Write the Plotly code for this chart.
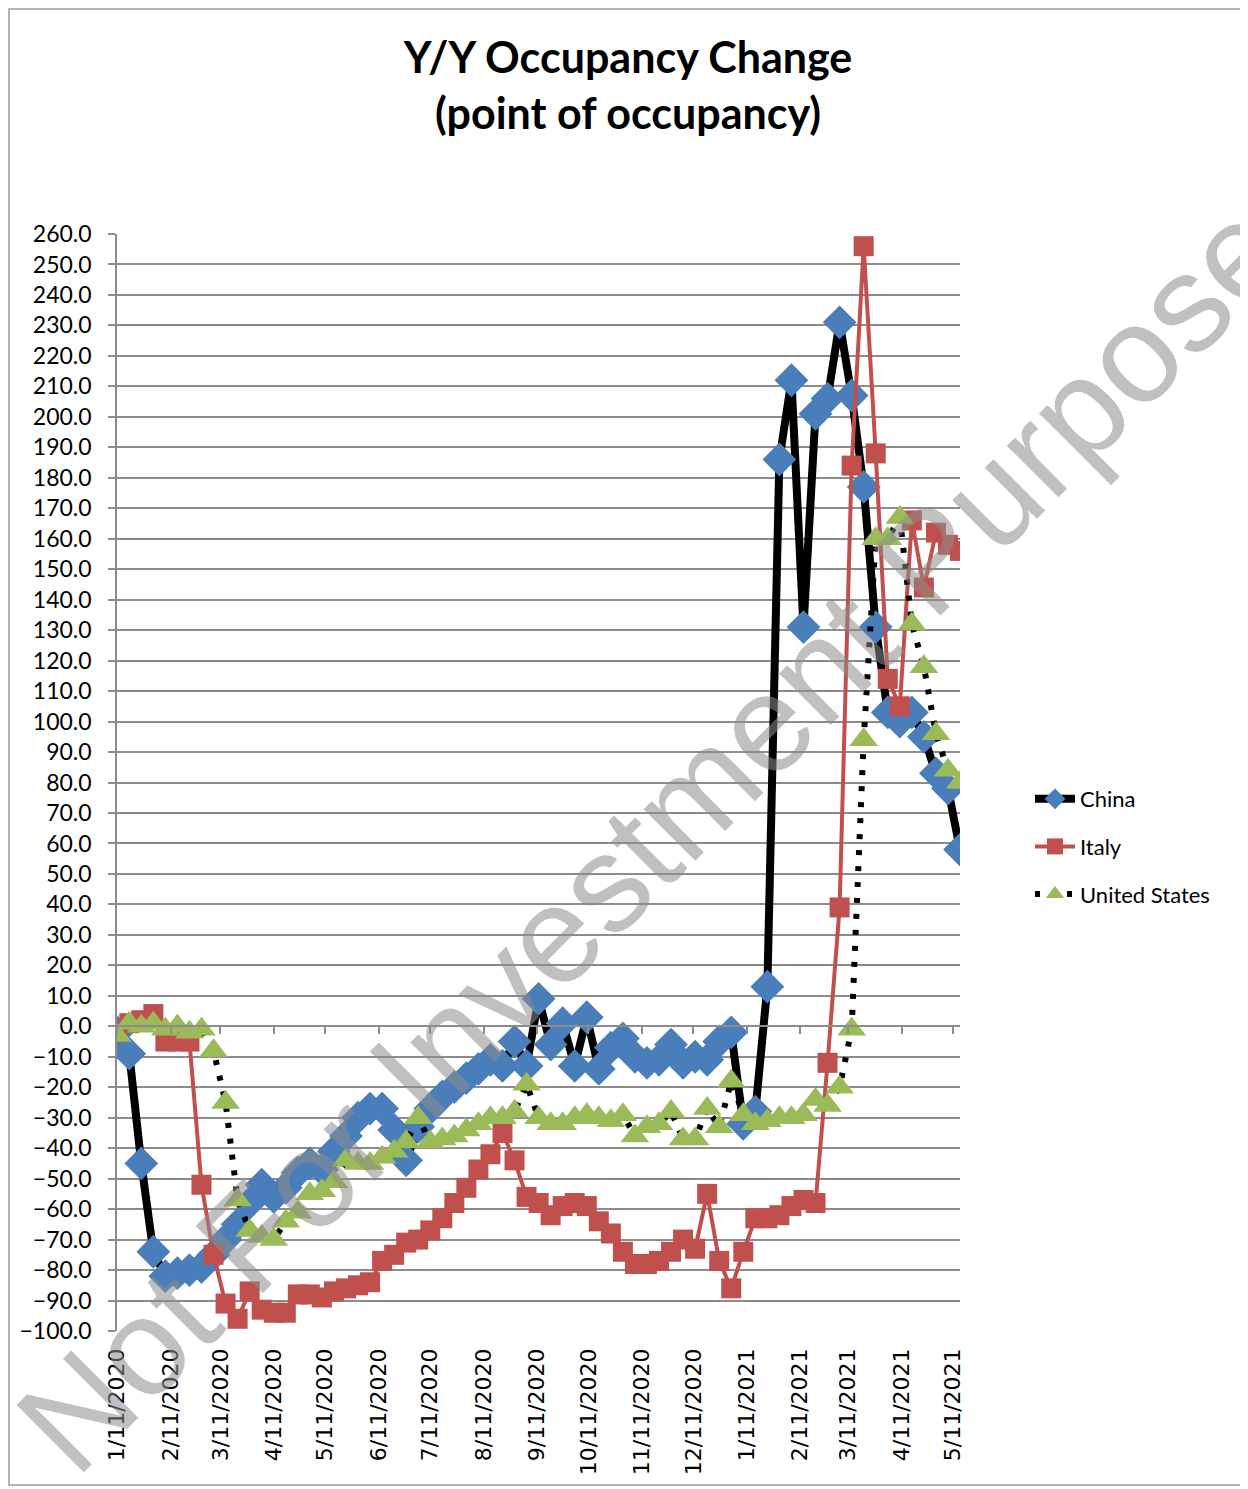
import plotly.graph_objects as go
import pandas as pd

# ---------------- data ----------------
dates = pd.date_range("2020-01-11", periods=71, freq="7D")

china = [-2, -9, -45, -74, -82, -81, -80, -79, -75, -70,
         -65, -58, -52, -56, -53, -48, -45, -47, -41, -36,
         -30, -27, -27, -34, -44, -33, -27, -23, -20, -17,
         -14, -11, -13, -5, -13, 9, -6, 1, -13, 3,
         -14, -7, -4, -10, -12, -11, -6, -12, -10, -11,
         -5, -2, -32, -28, 13, 186, 212, 131, 201, 206,
         231, 207, 177, 131, 103, 100, 103, 95, 83, 78,
         58]

italy = [-2, 1, 2, 4, -5, -5, -5, -52, -75, -91,
         -96, -87, -93, -94, -94, -88, -88, -89, -87, -86,
         -85, -84, -77, -75, -71, -70, -67, -63, -58, -53,
         -47, -42, -35, -44, -56, -58, -62, -59, -58, -59,
         -64, -68, -74, -78, -78, -77, -74, -70, -73, -55,
         -77, -86, -74, -63, -63, -62, -59, -57, -58, -12,
         39, 184, 256, 188, 114, 105, 166, 144, 162, 158,
         156]

us = [-3, 1, 0, 1, -1, 0, -2, -1, -8, -25,
      -57, -67, -69, -70, -64, -61, -55, -54, -51, -44,
      -45, -45, -43, -41, -38, -30, -38, -37, -36, -34,
      -32, -30, -30, -28, -19, -30, -32, -32, -30, -29,
      -30, -31, -29, -36, -33, -32, -28, -37, -37, -27,
      -33, -18, -29, -32, -31, -30, -30, -29, -24, -26,
      -20, -1, 94, 160, 160, 167, 132, 118, 96, 84,
      80]

tick_dates = pd.date_range("2020-01-01", periods=17, freq="MS") + pd.Timedelta(days=10)
tick_text = [f"{d.month}/{d.day}/{d.year}" for d in tick_dates]

y_min, y_max = -100, 260

# ---------------- geometry (reference page pixels, page has 8px body margin) ----------------
OFF = 8
W, H = 1240, 1481
L, R, T, B = 117 - OFF, 960 - OFF, 234 - OFF, 1331 - OFF


def px_x(p):
    return (p - OFF - L) / (R - L)


def px_y(p):
    return (B - (p - OFF)) / (B - T)


fig = go.Figure()

fig.add_trace(go.Scatter(
    x=dates, y=china, name="China", mode="lines+markers",
    line=dict(color="black", width=8),
    marker=dict(symbol="diamond", size=26, color="#4A7EBB"),
    legendgroup="c",
))
fig.add_trace(go.Scatter(
    x=dates, y=italy, name="Italy", mode="lines+markers",
    line=dict(color="#C0504D", width=4),
    marker=dict(symbol="square", size=20, color="#C0504D"),
    legendgroup="i",
))
fig.add_trace(go.Scatter(
    x=dates, y=us, name="United States", mode="lines+markers",
    line=dict(color="black", width=6, dash="5px,11px"),
    marker=dict(symbol="triangle-up", size=25, color="#9BBB59"),
    legendgroup="u",
))
# helper trace so the zero-crossing axis gets drawn
fig.add_trace(go.Scatter(
    x=dates, y=china, xaxis="x2", mode="lines", opacity=0,
    showlegend=False, hoverinfo="skip",
))

grid_col = "#8C8C8C"
x_start = dates[0] - pd.Timedelta(hours=3)
fig.update_layout(
    width=W, height=H,
    margin=dict(l=L, r=W - R, t=T, b=H - B),
    paper_bgcolor="white", plot_bgcolor="white",
    title=dict(
        text="<b>Y/Y Occupancy Change<br>(point of occupancy)</b>",
        x=px_x(628), xanchor="center", xref="paper",
        y=1 - (73 - OFF) / H, yanchor="middle",
        font=dict(family="Lato", size=43, color="black"),
    ),
    xaxis=dict(
        type="date",
        range=[x_start, dates[-1]],
        tickvals=tick_dates, ticktext=tick_text,
        tickangle=-90,
        tickfont=dict(family="DejaVu Sans", size=22, color="black"),
        showgrid=False, zeroline=False, showline=False,
        ticks="", ticklabelstandoff=12,
    ),
    xaxis2=dict(
        type="date", overlaying="x", matches="x",
        anchor="free", position=(0 - y_min) / (y_max - y_min),
        tickvals=tick_dates, showticklabels=False,
        ticks="outside", ticklen=7, tickcolor=grid_col, tickwidth=1.5,
        showline=True, linecolor=grid_col, linewidth=1.5,
        showgrid=False, zeroline=False,
    ),
    yaxis=dict(
        range=[y_min, y_max], dtick=10, tick0=0,
        tickformat=".1f",
        tickfont=dict(family="Lato", size=23, color="black"),
        showgrid=True, gridcolor=grid_col, gridwidth=1.5,
        zeroline=False,
        showline=True, linecolor=grid_col, linewidth=1.5,
        ticks="outside", ticklen=7, tickcolor=grid_col, tickwidth=1.5,
        ticklabelstandoff=12,
    ),
    legend=dict(
        x=px_x(1030), y=px_y(778), xanchor="left", yanchor="top",
        font=dict(family="Lato", size=22, color="black"),
        tracegroupgap=16, bgcolor="rgba(0,0,0,0)",
        itemwidth=40,
    ),
    showlegend=True,
)

# outer chart border
fig.add_shape(type="rect", xref="paper", yref="paper",
              x0=px_x(9), x1=px_x(1270), y0=px_y(1485), y1=px_y(9),
              line=dict(color="#9A9A9A", width=1.5), layer="below")

# watermark
fig.add_annotation(
    text="Not For Investment Purposes", xref="paper", yref="paper",
    x=px_x(676), y=px_y(812), xanchor="center", yanchor="middle",
    showarrow=False, textangle=-45,
    font=dict(family="Liberation Sans", size=138, color="rgba(140,140,140,0.55)"),
)

fig.write_html("out.html")
